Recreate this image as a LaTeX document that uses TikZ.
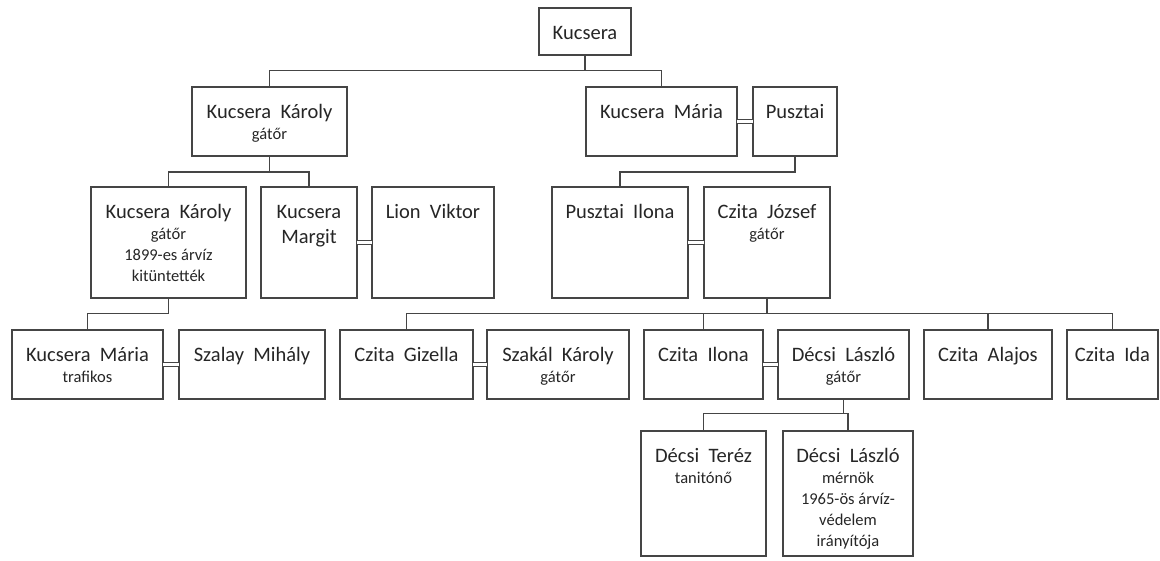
\documentclass[tikz,border=0pt]{standalone}
\usepackage{fontspec}
\setmainfont{Carlito}
\definecolor{linec}{HTML}{454545}
\definecolor{textc}{HTML}{262626}
\newcommand\nm[1]{\rule{0pt}{16pt}{\fontsize{20.5}{21}\selectfont #1}}
\newcommand\person[6]{%
  \node[box, minimum width={#4-#2}, minimum height={#5-#3}] (#1) at ({(#2+#4)/2},{(#3+#5)/2}) {};
  \node[txt] (#1-t) at ({(#2+#4)/2},{#3+15}) {#6};
}
\begin{document}
\begin{tikzpicture}[x=1pt,y=-1pt,
  box/.style={draw=linec, line width=1.4pt, rectangle, inner sep=0pt, outer sep=0pt, fill=white},
  txt/.style={anchor=north, inner sep=0pt, align=center, text=textc, font=\fontsize{16.5}{21}\selectfont},
  conn/.style={draw=linec, line width=1.4pt},
  marr/.style={draw=linec, line width=1.2pt, double=white, double distance=3.2pt}]
\useasboundingbox (0,0) rectangle (1160,560);
\fill[white] (0,0) rectangle (1160,560);
% bus levels
\coordinate (b0) at (0,70.7);
\coordinate (b1) at (0,172);
\coordinate (b2) at (0,313.3);
\coordinate (b3) at (0,413.3);
% persons
\person{kucsera}{539}{8}{631}{55}{\nm{Kucsera}}
\person{kk1}{192}{87}{347}{156}{\nm{Kucsera~~Károly}\\gátőr}
\person{km1}{586}{87}{737}{156}{\nm{Kucsera~~Mária}}
\person{pusztai}{753}{87}{837}{156}{\nm{Pusztai}}
\person{kk2}{91}{187}{246}{298}{\nm{Kucsera~~Károly}\\gátőr\\1899-es árvíz\\kitüntették}
\person{margit}{261}{187}{357}{298}{\nm{Kucsera}\\[4pt]\nm{Margit}}
\person{lion}{372}{187}{494}{298}{\nm{Lion~~Viktor}}
\person{pilona}{552}{187}{688}{298}{\nm{Pusztai~~Ilona}}
\person{czjozsef}{704}{187}{830}{298}{\nm{Czita~~József}\\gátőr}
\person{km2}{12}{330}{163}{399}{\nm{Kucsera~~Mária}\\trafikos}
\person{szalay}{179}{330}{325}{399}{\nm{Szalay~~Mihály}}
\person{gizella}{340}{330}{473}{399}{\nm{Czita~~Gizella}}
\person{szakal}{487}{330}{629}{399}{\nm{Szakál~~Károly}\\gátőr}
\person{cilona}{644}{330}{763}{399}{\nm{Czita~~Ilona}}
\person{dl1}{778}{330}{909}{399}{\nm{Décsi~~László}\\gátőr}
\person{alajos}{924}{330}{1052}{399}{\nm{Czita~~Alajos}}
\person{ida}{1067}{330}{1158}{399}{\nm{Czita~~Ida}}
\person{terez}{641}{431}{766}{556}{\nm{Décsi~~Teréz}\\tanitónő}
\person{dl2}{783}{431}{913}{556}{\nm{Décsi~~László}\\mérnök\\1965-ös árvíz-\\védelem\\irányítója}
% descent connectors
\draw[conn] (kucsera.south) -- (kucsera.south |- b0);
\draw[conn] (kk1.north) |- (km1.north |- b0) -- (km1.north);
\draw[conn] (kk1.south) -- (kk1.south |- b1);
\draw[conn] (kk2.north) |- (margit.north |- b1) -- (margit.north);
\draw[conn] (pusztai.south) |- (pilona.north |- b1) -- (pilona.north);
\draw[conn] (kk2.south) |- (km2.north |- b2) -- (km2.north);
\draw[conn] (czjozsef.south) -- (czjozsef.south |- b2);
\draw[conn] (gizella.north) |- (ida.north |- b2) -- (ida.north);
\draw[conn] (cilona.north) -- (cilona.north |- b2);
\draw[conn] (alajos.north) -- (alajos.north |- b2);
\draw[conn] (dl1.south) -- (dl1.south |- b3);
\draw[conn] (terez.north) |- (dl2.north |- b3) -- (dl2.north);
% marriages
\draw[marr] (km1.east) -- (pusztai.west);
\draw[marr] (margit.east) -- (lion.west);
\draw[marr] (pilona.east) -- (czjozsef.west);
\draw[marr] (km2.east) -- (szalay.west);
\draw[marr] (gizella.east) -- (szakal.west);
\draw[marr] (cilona.east) -- (dl1.west);
\end{tikzpicture}
\end{document}
